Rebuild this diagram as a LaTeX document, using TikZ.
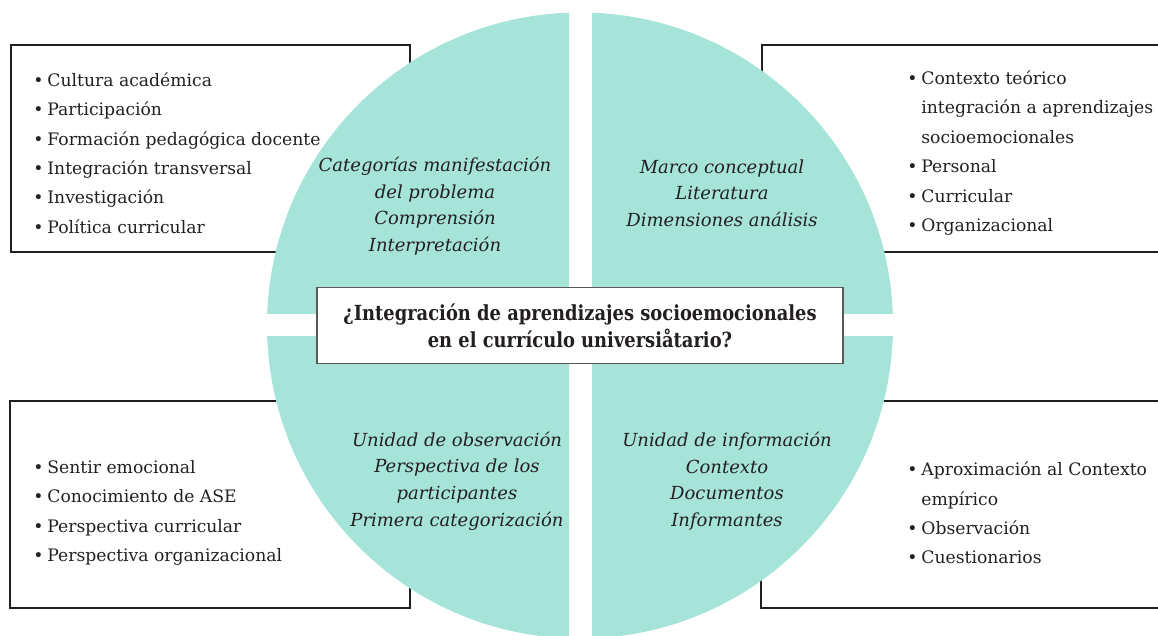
\documentclass[tikz,border=0pt]{standalone}
\usepackage{fontspec}
\setmainfont{DejaVu Serif}
\newfontfamily\titlefont[FakeStretch=0.86]{DejaVu Serif}
\definecolor{aqua}{HTML}{A6E4DA}
\definecolor{ink}{HTML}{231F20}
\newcommand{\itm}{\makebox[7pt][l]{\textbullet}}
\newcommand{\nit}{\makebox[7pt][l]{}}

\begin{document}
\begin{tikzpicture}[x=0.5pt,y=-0.5pt]
\tikzstyle{every node}+=[inner sep=0pt, text=ink]
\tikzstyle{lst}=[align=left, anchor=west, font=\fontsize{8.6}{14.7}\selectfont]
\tikzstyle{quad}=[align=center, font=\fontsize{9}{13.3}\selectfont\itshape]
\useasboundingbox (0,0) rectangle (1158,636);
% frames behind the disc
\draw [ink, line width=1.4pt] (11,45) rectangle (410,252);
\draw [ink, line width=1.4pt] (1160,45) -- (762,45) -- (762,252) -- (1160,252);
\draw [ink, line width=1.4pt] (10,401) rectangle (410,608);
\draw [ink, line width=1.4pt] (1160,401) -- (761,401) -- (761,608) -- (1160,608);
% four quarters of the disc
\foreach \xa/\xb/\ya/\yb in {250/569/0/314, 592/910/0/314, 250/569/337/650, 592/910/337/650} {
  \begin{scope}
  \clip (\xa,\ya) rectangle (\xb,\yb);
  \fill [aqua] (580,325.5) circle (313);
  \end{scope}
}
% lists
\node [lst] (tl) at (33,153) {\itm Cultura académica\\ \itm Participación\\ \itm Formación pedagógica docente\\ \itm Integración transversal\\ \itm Investigación\\ \itm Política curricular};
\node [lst] (tr) at (907,153) {\itm Contexto teórico\\ \nit integración a aprendizajes\\ \nit socioemocionales\\ \itm Personal\\ \itm Curricular\\ \itm Organizacional};
\node [lst] (bl) at (33,513) {\itm Sentir emocional\\ \itm Conocimiento de ASE\\ \itm Perspectiva curricular\\ \itm Perspectiva organizacional};
\node [lst] (br) at (907,513) {\itm Aproximación al Contexto\\ \nit empírico\\ \itm Observación\\ \itm Cuestionarios};
% quarter labels
\node [quad] (qtl) at (435,206) {Categorías manifestación\\ del problema\\ Comprensión\\ Interpretación};
\node [quad] (qtr) at (722,193) {Marco conceptual\\ Literatura\\ Dimensiones análisis};
\node [quad] (qbl) at (457,481) {Unidad de observación\\ Perspectiva de los\\ participantes\\ Primera categorización};
\node [quad] (qbr) at (727,481) {Unidad de información\\ Contexto\\ Documentos\\ Informantes};
% question
\node [draw=ink!75, line width=0.7pt, fill=white, minimum width=263pt, minimum height=38pt, align=center,
  font=\fontsize{10.4}{13.5}\selectfont\titlefont\bfseries] (q) at (580,325.5)
  {¿Integración de aprendizajes socioemocionales\\ en el currículo universiåtario?};
\end{tikzpicture}
\end{document}
